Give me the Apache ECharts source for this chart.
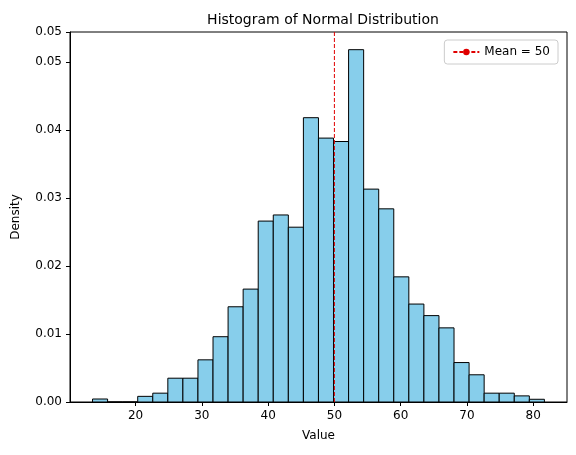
<!DOCTYPE html>
<html>
<head>
<meta charset="utf-8">
<script src="https://cdn.jsdelivr.net/npm/echarts@6/dist/echarts.min.js"></script>
<style>html,body{margin:0;background:#fff}#c{width:576px;height:455px}</style>
</head>
<body>
<div id="c"></div>
<script>
var binStart = 13.5;
var binWidth = 2.273;
var densities = [0.00044, 0, 0, 0.00083, 0.0013, 0.0035, 0.0035, 0.0062, 0.0096, 0.0140,
  0.0166, 0.0266, 0.0275, 0.0257, 0.0418, 0.0388, 0.0383, 0.0518, 0.0313, 0.0284,
  0.0184, 0.0144, 0.0127, 0.0109, 0.0058, 0.0040, 0.0013, 0.0013, 0.0009, 0.0004];
var meanValue = 50;

var bins = densities.map(function (d, i) {
  return [binStart + i * binWidth, binStart + (i + 1) * binWidth, d];
});

var chart = echarts.init(document.getElementById('c'));
var font = 'DejaVu Sans';
chart.setOption({
  animation: false,
  textStyle: { fontFamily: font },
  title: {
    text: 'Histogram of Normal Distribution',
    left: 318, top: 8, textAlign: 'center',
    textStyle: { fontFamily: font, fontSize: 14, fontWeight: 'normal', color: '#000' }
  },
  legend: {
    right: 18, top: 40,
    data: ['Mean = 50'],
    itemWidth: 26, itemHeight: 8,
    borderColor: '#ccc', borderWidth: 1, borderRadius: 3, padding: [6, 8],
    textStyle: { fontFamily: font, fontSize: 12, color: '#000' }
  },
  grid: { left: 70, right: 9, top: 32, bottom: 53, show: true, borderColor: '#000', borderWidth: 1 },
  xAxis: {
    type: 'value', min: 10.1, max: 85.1, interval: 10,
    name: 'Value', nameLocation: 'middle', nameGap: 28,
    nameTextStyle: { fontFamily: font, fontSize: 12, color: '#000' },
    axisLine: { show: true, onZero: false, lineStyle: { color: '#000' } },
    axisTick: { show: true, length: 4, lineStyle: { color: '#000' }, customValues: [20, 30, 40, 50, 60, 70, 80] },
    axisLabel: { color: '#000', fontSize: 12, customValues: [20, 30, 40, 50, 60, 70, 80] },
    splitLine: { show: false }
  },
  yAxis: {
    type: 'value', min: 0, max: 0.0544, interval: 0.01,
    name: 'Density', nameLocation: 'middle', nameGap: 48,
    nameTextStyle: { fontFamily: font, fontSize: 12, color: '#000' },
    axisLine: { show: true, lineStyle: { color: '#000' } },
    axisTick: { show: true, length: 4, lineStyle: { color: '#000' } },
    axisLabel: { color: '#000', fontSize: 12, formatter: function (v) { return v.toFixed(2); } },
    splitLine: { show: false }
  },
  series: [
    {
      type: 'custom',
      data: bins,
      renderItem: function (params, api) {
        var p0 = api.coord([api.value(0), api.value(2)]);
        var p1 = api.coord([api.value(1), 0]);
        return {
          type: 'rect',
          shape: { x: p0[0], y: p0[1], width: p1[0] - p0[0], height: p1[1] - p0[1] },
          style: { fill: '#87ceeb', stroke: '#000', lineWidth: 1 }
        };
      }
    },
    {
      name: 'Mean = 50',
      type: 'line',
      symbol: 'none',
      data: [[meanValue, 0], [meanValue, 0.0544]],
      lineStyle: { color: '#e00000', type: [4, 2], width: 1 },
      itemStyle: { color: '#e00000' },
      z: 5
    }
  ]
});
</script>
</body>
</html>
